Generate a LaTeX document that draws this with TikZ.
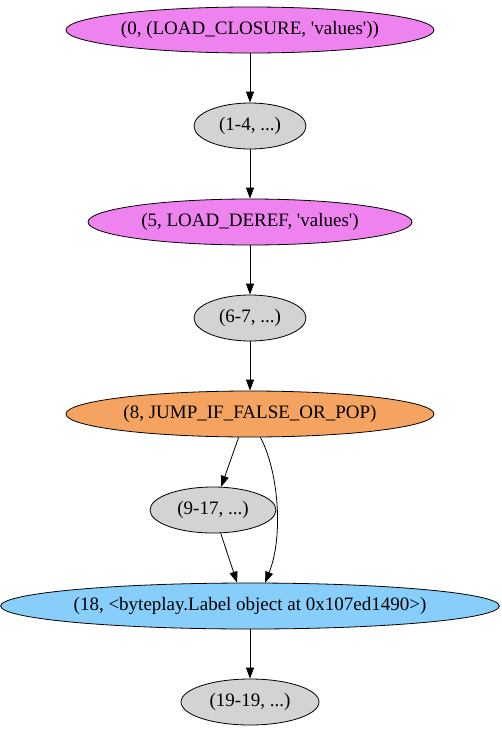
\documentclass[tikz,border=0pt]{standalone}
\usepackage{fontspec}
\setmainfont{Liberation Serif}
\usepackage{tikz}
\usetikzlibrary{arrows.meta,shapes.geometric,positioning}

\definecolor{violetop}{HTML}{EE82EE}
\definecolor{grayop}{HTML}{D3D3D3}
\definecolor{jumpop}{HTML}{F4A460}
\definecolor{labelop}{HTML}{87CEFA}

\tikzset{
  op/.style={ellipse,draw,line width=0.8pt,inner sep=0pt,minimum height=46pt,
    font=\fontsize{19}{21}\selectfont},
  flow/.style={line width=0.8pt,-{Triangle[length=11pt,width=8pt]}}
}

\begin{document}
\begin{tikzpicture}[x=1pt,y=1pt]
      \useasboundingbox (0,0) rectangle (501,-731);
      \node[op,fill=violetop,minimum width=368pt] (n0) at (250,-30) {(0, (LOAD\_CLOSURE, \textquotesingle values\textquotesingle))};
      \node[op,fill=grayop,minimum width=112pt] (n1to4) at (250,-126) {(1-4, ...)};
      \node[op,fill=violetop,minimum width=324pt] (n5) at (250,-222) {(5, LOAD\_DEREF, \textquotesingle values\textquotesingle)};
      \node[op,fill=grayop,minimum width=112pt] (n6to7) at (250,-318) {(6-7, ...)};
      \node[op,fill=jumpop,minimum width=368pt] (n8) at (250,-414) {(8, JUMP\_IF\_FALSE\_OR\_POP)};
      \node[op,fill=grayop,minimum width=126pt] (n9to17) at (213,-510) {(9-17, ...)};
      \node[op,fill=labelop,minimum width=493pt] (n18) at (250,-606) {(18, <byteplay.Label object at 0x107ed1490>)};
      \node[op,fill=grayop,minimum width=138pt] (n19) at (250,-702) {(19-19, ...)};

      \draw[flow] (n0) -- (n1to4);
      \draw[flow] (n1to4) -- (n5);
      \draw[flow] (n5) -- (n6to7);
      \draw[flow] (n6to7) -- (n8);
      \draw[flow] (n8.-116) -- (n9to17);
      \draw[flow] (n8.-66) .. controls (278,-470) and (284,-535) .. (n18.57);
      \draw[flow] (n9to17) -- (n18.119);
      \draw[flow] (n18) -- (n19);
\end{tikzpicture}
\end{document}
